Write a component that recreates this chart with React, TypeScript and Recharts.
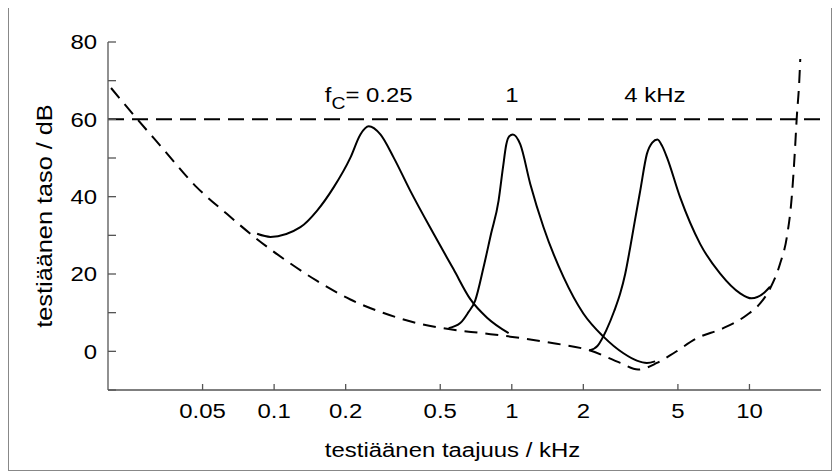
import React from 'react';
import { LineChart, Line, XAxis, YAxis, ReferenceLine, ReferenceDot } from 'recharts';

// ---------- data ----------
const xTicks = [0.05, 0.1, 0.2, 0.5, 1, 2, 5, 10];
const yTicks = [-10, 0, 10, 20, 30, 40, 50, 60, 70, 80];
const xDomain = [0.02, 20];
const yDomain = [-10, 80];
const referenceLevel = 60;

// threshold of hearing (dashed)
const thresholdF = [0.0206, 0.0265, 0.0333, 0.0473, 0.0634, 0.0848, 0.1134, 0.1516, 0.2094, 0.289, 0.399, 0.551, 0.75, 0.985, 1.499, 2.14, 2.86, 3.4, 4.08, 4.79, 6.01, 7.77, 9.75, 11.09, 12.2, 13.46, 14.36, 15.06, 15.56, 15.8, 16.2, 16.36];
const thresholdDb = [68.1, 60.1, 53.1, 42.4, 35.5, 29.0, 23.3, 18.2, 13.4, 9.9, 7.3, 5.7, 4.7, 3.8, 2.1, 0.2, -3.0, -4.7, -3.0, -0.5, 3.4, 6.0, 9.4, 12.4, 16.2, 22.7, 29.5, 39.8, 52.7, 60.1, 69.8, 75.6];

// tuning curve fc = 0.25 kHz
const tc025F = [0.0848, 0.0965, 0.129, 0.1517, 0.178, 0.2094, 0.2307, 0.25, 0.28, 0.3185, 0.3742, 0.469, 0.569, 0.669, 0.787, 0.97];
const tc025Db = [30.4, 29.6, 32.1, 36.4, 42.4, 50.1, 56.1, 58.2, 56.1, 50.1, 41.5, 30.4, 21.2, 13.5, 8.7, 4.7];

// tuning curve fc = 1 kHz
const tc1F = [0.542, 0.607, 0.655, 0.702, 0.761, 0.818, 0.88, 0.918, 0.948, 0.975, 1.01, 1.086, 1.196, 1.36, 1.651, 2.0, 2.43, 2.95, 3.36, 3.7, 4.01];
const tc1Db = [6.0, 7.3, 10.0, 13.2, 21.8, 30.4, 39.0, 47.5, 53.5, 55.6, 56.1, 53.5, 43.3, 32.1, 19.2, 9.8, 3.8, -0.5, -2.4, -3.0, -2.6];

// tuning curve fc = 4 kHz
const tc4F = [2.12, 2.3, 2.5, 2.7, 2.86, 3.0, 3.15, 3.3, 3.47, 3.7, 3.9, 4.1, 4.3, 4.5, 5.11, 6.2, 7.53, 9.14, 10.2, 11.46, 12.2];
const tc4Db = [0.2, 1.5, 5.5, 10.5, 15.0, 20.0, 26.9, 34.0, 41.5, 51.0, 54.0, 54.8, 53.0, 50.1, 39.8, 27.8, 20.1, 15.0, 13.7, 15.0, 16.7];

// annotation labels
const labelLevel = 64.5;
const fcLabelF = [0.25, 1, 4];
const fcLabelPrefix = ['f', '', ''];
const fcLabelSub = ['C', '', ''];
const fcLabelText = ['= 0.25', '1', '4 kHz'];

const xTitle = 'testiäänen taajuus / kHz';
const yTitle = 'testiäänen taso / dB';

// ---------- helpers ----------
const toPoints = (f: number[], db: number[]) => f.map((v, i) => ({ f: v, db: db[i] }));
const thresholdData = toPoints(thresholdF, thresholdDb);
const tc025Data = toPoints(tc025F, tc025Db);
const tc1Data = toPoints(tc1F, tc1Db);
const tc4Data = toPoints(tc4F, tc4Db);

const FONT = '"Liberation Sans", Arial, Helvetica, sans-serif';
const SX = 1.14;
const FS = 21;
const AXIS = '#555';

const SText = ({ x, y, anchor = 'middle', dy, rotate = false, size = FS, sx = SX, children }: any) => (
  <text
    transform={`translate(${x},${y})${rotate ? ' rotate(-90)' : ''} scale(${sx},1)`}
    textAnchor={anchor}
    dy={dy}
    fontSize={size}
    fontFamily={FONT}
    fill="#000"
  >
    {children}
  </text>
);

const XTick = (props: any) => {
  const { x, y, payload } = props;
  return <SText x={x} y={y} dy="0.71em">{String(payload.value)}</SText>;
};

const YTick = (props: any) => {
  const { x, y, payload } = props;
  if (payload.value % 20 !== 0) return <g />;
  return <SText x={x} y={y} anchor="end" dy="0.355em">{String(payload.value)}</SText>;
};

const EmptyTick = () => <g />;

const XTitle = (props: any) => {
  const vb = props.viewBox;
  if (!vb) return null;
  return <SText x={vb.x + vb.width / 2 - 12} y={vb.y + vb.height + 22} dy="0.71em">{xTitle}</SText>;
};

const YTitle = (props: any) => {
  const vb = props.viewBox;
  if (!vb) return null;
  return <SText x={vb.x + 4} y={vb.y + vb.height / 2} rotate size={22} sx={1.15}>{yTitle}</SText>;
};

const makeLabelShape = (i: number) => (p: any) => (
  <text
    transform={`translate(${p.cx},${p.cy}) scale(${SX},1)`}
    textAnchor="middle"
    fontSize={FS}
    fontFamily={FONT}
    fill="#000"
  >
    {fcLabelPrefix[i]}
    {fcLabelSub[i] ? <tspan dy={7} fontSize={17}>{fcLabelSub[i]}</tspan> : null}
    {fcLabelSub[i] ? <tspan dy={-7}>{fcLabelText[i]}</tspan> : fcLabelText[i]}
  </text>
);

export default function App() {
  return (
    <div
      style={{
        width: 824,
        height: 465,
        border: '1px solid #888',
        boxSizing: 'border-box',
        marginTop: -2,
        background: '#fff',
      }}
    >
      <LineChart width={822} height={463} margin={{ top: 35, right: 10, bottom: 50, left: 39 }}>
        <XAxis
          xAxisId="b"
          dataKey="f"
          type="number"
          scale="log"
          domain={xDomain}
          ticks={xTicks}
          allowDataOverflow
          interval={0}
          height={30}
          tickSize={-6}
          tickMargin={19}
          tick={<XTick />}
          axisLine={{ stroke: AXIS, strokeWidth: 1.3 }}
          tickLine={{ stroke: AXIS, strokeWidth: 1.3 }}
          label={<XTitle />}
        />
        <XAxis
          xAxisId="t"
          orientation="top"
          dataKey="f"
          type="number"
          scale="log"
          domain={xDomain}
          ticks={xTicks}
          allowDataOverflow
          interval={0}
          height={0}
          tickSize={-6}
          tick={<EmptyTick />}
          axisLine={{ stroke: AXIS, strokeWidth: 1.3 }}
          tickLine={{ stroke: AXIS, strokeWidth: 1.3 }}
        />
        <YAxis
          yAxisId="l"
          type="number"
          domain={yDomain}
          ticks={yTicks}
          allowDataOverflow
          interval={0}
          width={60}
          tickSize={-8}
          tickMargin={19}
          tick={<YTick />}
          axisLine={{ stroke: AXIS, strokeWidth: 1.3 }}
          tickLine={{ stroke: AXIS, strokeWidth: 1.3 }}
          label={<YTitle />}
        />
        <YAxis
          yAxisId="r"
          orientation="right"
          type="number"
          domain={yDomain}
          ticks={yTicks}
          allowDataOverflow
          interval={0}
          width={0}
          tickSize={-8}
          tick={<EmptyTick />}
          axisLine={{ stroke: AXIS, strokeWidth: 1.3 }}
          tickLine={{ stroke: AXIS, strokeWidth: 1.3 }}
        />
        <ReferenceLine
          xAxisId="b"
          yAxisId="l"
          y={referenceLevel}
          stroke="#000"
          strokeWidth={2}
          strokeDasharray="16 8"
        />
        <Line
          xAxisId="b"
          yAxisId="l"
          data={thresholdData}
          dataKey="db"
          type="monotone"
          stroke="#000"
          strokeWidth={2}
          strokeDasharray="13 8"
          dot={false}
          activeDot={false}
          isAnimationActive={false}
        />
        <Line
          xAxisId="b"
          yAxisId="l"
          data={tc025Data}
          dataKey="db"
          type="monotone"
          stroke="#000"
          strokeWidth={2}
          dot={false}
          activeDot={false}
          isAnimationActive={false}
        />
        <Line
          xAxisId="b"
          yAxisId="l"
          data={tc1Data}
          dataKey="db"
          type="monotone"
          stroke="#000"
          strokeWidth={2}
          dot={false}
          activeDot={false}
          isAnimationActive={false}
        />
        <Line
          xAxisId="b"
          yAxisId="l"
          data={tc4Data}
          dataKey="db"
          type="monotone"
          stroke="#000"
          strokeWidth={2}
          dot={false}
          activeDot={false}
          isAnimationActive={false}
        />
        {fcLabelF.map((f, i) => (
          <ReferenceDot
            key={i}
            xAxisId="b"
            yAxisId="l"
            x={f}
            y={labelLevel}
            r={0}
            shape={makeLabelShape(i)}
          />
        ))}
      </LineChart>
    </div>
  );
}
